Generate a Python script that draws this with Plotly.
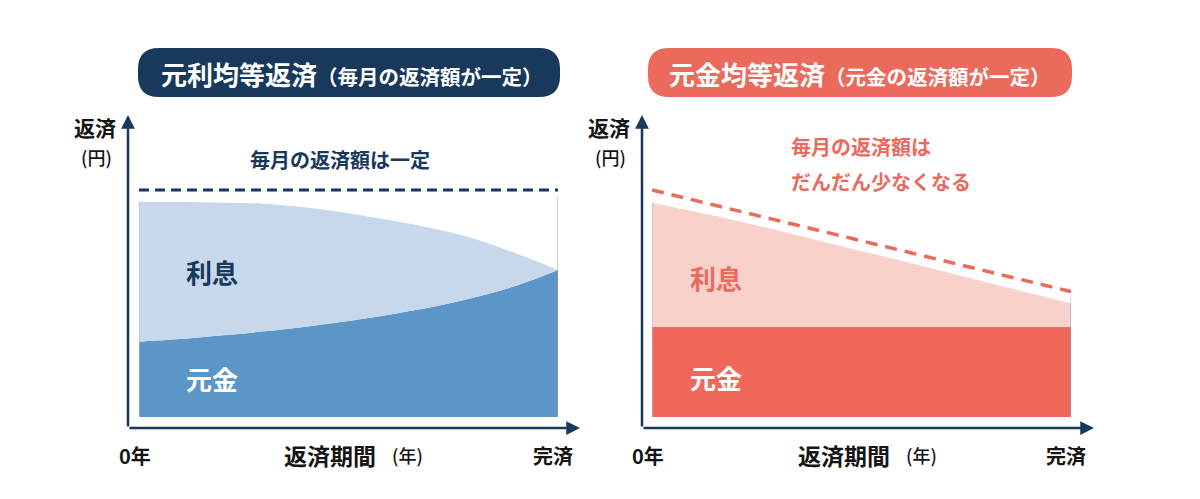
import plotly.graph_objects as go

# 返済期間（年）
ganri_years = [0, 2.5, 5, 7.5, 10, 12.5, 15, 17.5, 20, 22.5, 25, 27.5, 30, 32.5, 35]
years = [0, 5, 10, 15, 20, 25, 30, 35]

# 元利均等返済：元金＋利息（合計）と元金
ganri_total = [10.0, 10.0, 9.99, 9.97, 9.93, 9.83, 9.68, 9.48, 9.25, 9.00, 8.72, 8.37, 7.92, 7.39, 6.84]
ganri_principal = [3.50, 3.59, 3.70, 3.82, 3.96, 4.11, 4.28, 4.47, 4.68, 4.92, 5.18, 5.49, 5.85, 6.30, 6.84]
ganri_line_x = [0, 35]
ganri_line_y = [10.56, 10.56]

# 元金均等返済
gankin_total = [9.97, 9.38, 8.74, 8.06, 7.38, 6.68, 5.98, 5.29]
gankin_principal = [4.19, 4.19, 4.19, 4.19, 4.19, 4.19, 4.19, 4.19]
gankin_line_x = [0, 35]
gankin_line_y = [10.56, 5.83]

x_tick_vals = [0, 35]
x_tick_text = ["0年", "完済"]

NAVY = "#18395c"
BLUE = "#5c96c8"
LIGHT_BLUE = "#c7d8eb"
CORAL = "#ec6a5c"
RED = "#ef685a"
PINK = "#f8d1cb"
INK = "#151515"
FONT = "Noto Sans CJK JP"

W, H = 1200, 499


def px(x):
    return x / W


def py(y):
    return 1 - y / H


fig = go.Figure()

# left chart
fig.add_trace(go.Scatter(x=ganri_years, y=ganri_principal, mode="lines", line=dict(width=0, shape="spline"),
                         fill="tozeroy", fillcolor=BLUE, xaxis="x", yaxis="y", hoverinfo="skip"))
fig.add_trace(go.Scatter(x=ganri_years, y=ganri_total, mode="lines", line=dict(width=0, shape="spline"),
                         fill="tonexty", fillcolor=LIGHT_BLUE, xaxis="x", yaxis="y", hoverinfo="skip"))
fig.add_trace(go.Scatter(x=ganri_line_x, y=ganri_line_y, mode="lines",
                         line=dict(color=NAVY, width=3, dash="10px,6px"), xaxis="x", yaxis="y", hoverinfo="skip"))

# right chart
fig.add_trace(go.Scatter(x=years, y=gankin_principal, mode="lines", line=dict(width=0),
                         fill="tozeroy", fillcolor=RED, xaxis="x2", yaxis="y2", hoverinfo="skip"))
fig.add_trace(go.Scatter(x=years, y=gankin_total, mode="lines", line=dict(width=0, shape="spline"),
                         fill="tonexty", fillcolor=PINK, xaxis="x2", yaxis="y2", hoverinfo="skip"))
fig.add_trace(go.Scatter(x=gankin_line_x, y=gankin_line_y, mode="lines",
                         line=dict(color=CORAL, width=3.5, dash="12px,8px"), xaxis="x2", yaxis="y2", hoverinfo="skip"))

ax_common = dict(visible=False, range=[0, 35], fixedrange=True)
ay_common = dict(visible=False, range=[0, 12], fixedrange=True, domain=[py(417), py(159)])

shapes = []


def pill(x0, x1, y0, y1, r, color):
    rx, ry = r / W, r / H
    X0, X1, Y0, Y1 = px(x0), px(x1), py(y0), py(y1)
    path = (f"M {X0+rx},{Y0} L {X1-rx},{Y0} Q {X1},{Y0} {X1},{Y0-ry} "
            f"L {X1},{Y1+ry} Q {X1},{Y1} {X1-rx},{Y1} L {X0+rx},{Y1} "
            f"Q {X0},{Y1} {X0},{Y1+ry} L {X0},{Y0-ry} Q {X0},{Y0} {X0+rx},{Y0} Z")
    shapes.append(dict(type="path", xref="paper", yref="paper", path=path,
                       fillcolor=color, line=dict(width=0), layer="below"))


pill(138, 560, 48, 97, 21, NAVY)
pill(648, 1072, 48, 97, 21, CORAL)

# thin edge lines of the plotted area
for xr, yr, top in [("x", "y", ganri_total[0]), ("x2", "y2", gankin_total[-1])]:
    shapes.append(dict(type="line", xref=xr, yref=yr, x0=years[-1], x1=years[-1], y0=0, y1=top + 0.25,
                       line=dict(color="#9aa0a8", width=1)))
    shapes.append(dict(type="line", xref=xr, yref=yr, x0=years[0], x1=years[0], y0=0,
                       y1=(ganri_total[0] if xr == "x" else gankin_total[0]),
                       line=dict(color="#b8bcc2", width=1)))

ann = []


def text(x, y, s, size, color=INK, weight=700, xanchor="center", xref="paper", xshift=0):
    ann.append(dict(x=x, y=y, xref=xref, yref="paper", text=s, showarrow=False, xanchor=xanchor,
                    yanchor="middle", xshift=xshift,
                    font=dict(family=FONT, size=size, color=color, weight=weight)))


def arrow(xt, yt, axp, ayp):
    ann.append(dict(x=px(xt), y=py(yt), xref="paper", yref="paper", text="", showarrow=True,
                    ax=axp, ay=ayp, axref="pixel", ayref="pixel", arrowhead=2, arrowsize=1.1,
                    arrowwidth=2.5, arrowcolor=NAVY, standoff=0))


# titles
text(px(352), py(73), "元利均等返済<span style='font-size:20.5px'>（毎月の返済額が一定）</span>", 26, "white")
text(px(860), py(73), "元金均等返済<span style='font-size:20.5px'>（元金の返済額が一定）</span>", 26, "white")

for off, ax_x, xa in [(0, 128, "x"), (514, 642, "x2")]:
    # axes
    arrow(ax_x, 115, 0, 313)
    arrow(ax_x + 452, 428, -452, 0)
    text(px(95 + off), py(127), "返済", 21)
    text(px(96 + off), py(157), "(円)", 18, weight=500)
    text(x_tick_vals[0], py(455), x_tick_text[0], 20, xref=xa, xshift=-4)
    text(x_tick_vals[1], py(455), x_tick_text[1], 20, xref=xa, xshift=-5)
    text(px(330 + off), py(455), "返済期間", 23)
    text(px(407 + off), py(455), "(年)", 18, weight=500)

# left labels
text(px(340), py(159), "毎月の返済額は一定", 20, NAVY)
text(px(212), py(271), "利息", 26, NAVY)
text(px(212), py(378), "元金", 26, "white")

# right labels
text(px(789), py(147), "毎月の返済額は", 20, CORAL, xanchor="left")
text(px(789), py(182), "だんだん少なくなる", 20, CORAL, xanchor="left")
text(px(716), py(277), "利息", 26, CORAL)
text(px(716), py(377), "元金", 26, "white")

fig.update_layout(
    width=W, height=H,
    margin=dict(l=0, r=0, t=0, b=0),
    paper_bgcolor="white", plot_bgcolor="rgba(0,0,0,0)",
    showlegend=False,
    xaxis=dict(domain=[px(139), px(558)], **ax_common),
    yaxis=dict(anchor="x", **ay_common),
    xaxis2=dict(domain=[px(652), px(1071)], anchor="y2", **ax_common),
    yaxis2=dict(anchor="x2", **ay_common),
    shapes=shapes,
    annotations=ann,
)

fig.write_html("out.html", config={"displayModeBar": False},
               post_script="document.body.style.margin='0';")
